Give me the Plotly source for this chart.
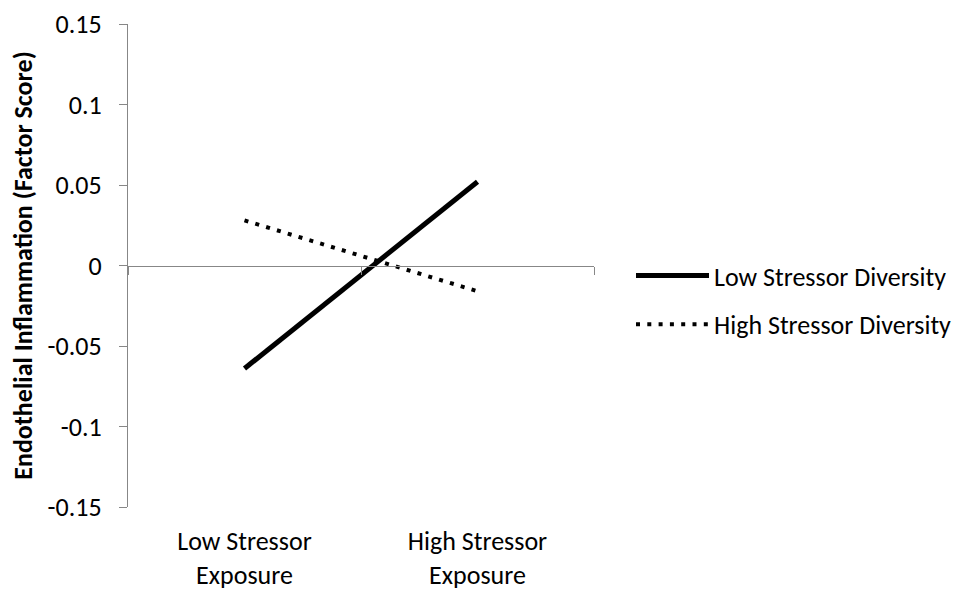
import plotly.graph_objects as go

categories = ["Low Stressor<br>Exposure", "High Stressor<br>Exposure"]
x_pos = [0, 1]
low_diversity = [-0.064, 0.052]
high_diversity = [0.028, -0.016]
y_ticks = [0.15, 0.1, 0.05, 0, -0.05, -0.1, -0.15]
y_tick_labels = ["0.15", "0.1", "0.05", "0", "-0.05", "-0.1", "-0.15"]
boundary_ticks = [-0.5, 0.5, 1.5]

FONT = "Carlito, Calibri, Lato, sans-serif"
AX = "#878787"

fig = go.Figure()
fig.add_trace(go.Scatter(
    x=x_pos, y=low_diversity, mode="lines", name="Low Stressor Diversity",
    line=dict(color="black", width=5), legendgroup="a", hoverinfo="skip"))
fig.add_trace(go.Scatter(
    x=x_pos, y=high_diversity, mode="lines", name="High Stressor Diversity",
    line=dict(color="black", width=4, dash="4px,7.3px"), legendgroup="b", hoverinfo="skip"))
# helper trace so the zero-level category axis is drawn
fig.add_trace(go.Scatter(x=x_pos, y=[None, None], xaxis="x2", showlegend=False,
                         hoverinfo="skip", mode="lines"))

fig.update_layout(
    width=961, height=590,
    margin=dict(l=128, r=367, t=24, b=83, autoexpand=False),
    paper_bgcolor="white", plot_bgcolor="white",
    font=dict(family=FONT, size=26, color="black"),
    showlegend=True,
    legend=dict(
        xref="container", yref="container",
        x=631 / 961, y=1 - 252 / 590, xanchor="left", yanchor="top",
        itemwidth=73, traceorder="grouped", tracegroupgap=12,
        font=dict(family=FONT, size=26, color="black"),
        bgcolor="rgba(0,0,0,0)",
    ),
    xaxis=dict(
        range=[-0.5, 1.5], tickmode="array", tickvals=x_pos, ticktext=categories,
        showline=False, showgrid=False, zeroline=False, ticks="",
        ticklabelstandoff=16, fixedrange=True, automargin=False,
    ),
    xaxis2=dict(
        overlaying="x", anchor="free", position=0.5, side="bottom",
        range=[-0.5, 1.5], tickmode="array", tickvals=boundary_ticks,
        showticklabels=False, ticks="outside", ticklen=8, tickwidth=1.3, tickcolor=AX,
        showline=True, linecolor=AX, linewidth=1.3, showgrid=False, zeroline=False,
        automargin=False,
    ),
    yaxis=dict(
        range=[-0.15, 0.15], tickmode="array", tickvals=y_ticks, ticktext=y_tick_labels,
        showline=True, linecolor=AX, linewidth=1.3, ticks="outside", ticklen=8,
        tickwidth=1.3, tickcolor=AX, showgrid=False, zeroline=False,
        ticklabelstandoff=12, automargin=False,
        title=dict(text="<b>Endothelial Inflammation (Factor Score)</b>",
                   font=dict(family=FONT, size=26), standoff=7),
    ),
)

fig.write_html(
    "out.html",
    config={"displayModeBar": False},
    post_script="document.body.style.margin='0';document.body.style.overflow='hidden';",
)
